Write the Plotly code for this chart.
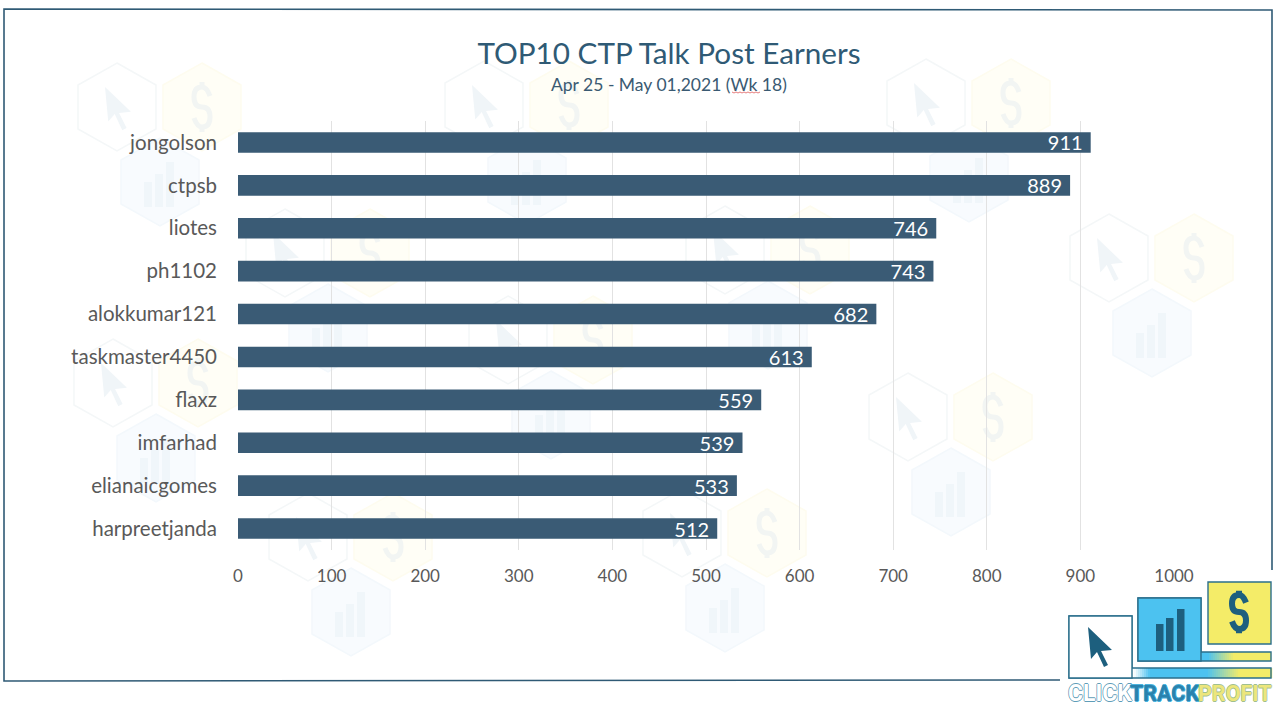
import plotly.graph_objects as go

# Chart data
users = ['jongolson', 'ctpsb', 'liotes', 'ph1102', 'alokkumar121',
         'taskmaster4450', 'flaxz', 'imfarhad', 'elianaicgomes', 'harpreetjanda']
earnings = [911, 889, 746, 743, 682, 613, 559, 539, 533, 512]
x_ticks = [0, 100, 200, 300, 400, 500, 600, 700, 800, 900, 1000]

title_text = 'TOP10 CTP Talk Post Earners'
subtitle_text = 'Apr 25 - May 01,2021 (Wk 18)'

W, H = 1280, 706
NAVY = '#3a5b75'
TEAL = '#1d5f7e'
FONT = 'Lato'

# Watermark positions: white hexagon centre of each group, in page pixels
watermark_groups = [(117, 107), (484, 105), (926, 103), (1109, 258), (285, 253),
                    (725, 250), (113, 383), (508, 340), (908, 417), (308, 537),
                    (682, 533)]


def px(x):
    return x / W


def py(y):
    return 1 - y / H


def poly(points, closed=True):
    path = 'M ' + ' L '.join(f'{px(x):.5f},{py(y):.5f}' for x, y in points)
    return path + (' Z' if closed else '')


def path_shape(path, fill='rgba(0,0,0,0)', line=None, width=0, layer='below'):
    return dict(type='path', xref='paper', yref='paper', path=path, layer=layer,
                fillcolor=fill, line=dict(color=line or 'rgba(0,0,0,0)', width=width))


def rect_shape(x0, y0, x1, y1, fill, line=None, width=0, layer='above'):
    return dict(type='rect', xref='paper', yref='paper', x0=px(x0), x1=px(x1),
                y0=py(y1), y1=py(y0), layer=layer, fillcolor=fill,
                line=dict(color=line or 'rgba(0,0,0,0)', width=width))


def hexagon(cx, cy, fill, line):
    pts = [(cx, cy - 44), (cx + 39, cy - 22), (cx + 39, cy + 22),
           (cx, cy + 44), (cx - 39, cy + 22), (cx - 39, cy - 22)]
    return path_shape(poly(pts), fill, line, 1.5)


def arrow(tx, ty, fill, scale=1.0, layer='below'):
    rel = [(0, 0), (24, 23), (13, 24), (20, 38), (16, 40), (9, 25), (3, 32)]
    return path_shape(poly([(tx + a * scale, ty + b * scale) for a, b in rel]), fill, layer=layer)


def dollar(cx, cy, a, b, color, width, layer='below'):
    pt = lambda dx, dy: f'{px(cx + dx):.5f},{py(cy + dy):.5f}'
    s = (f'M {pt(a, -b * 1.1)} Q {pt(a * 0.6, -2 * b)} {pt(0, -2 * b)} '
         f'Q {pt(-a, -2 * b)} {pt(-a, -b)} Q {pt(-a, 0)} {pt(0, 0)} '
         f'Q {pt(a, 0)} {pt(a, b)} Q {pt(a, 2 * b)} {pt(0, 2 * b)} '
         f'Q {pt(-a * 0.6, 2 * b)} {pt(-a, b * 1.1)} '
         f'M {pt(0, -2.5 * b)} L {pt(0, -2 * b)} M {pt(0, 2 * b)} L {pt(0, 2.5 * b)}')
    return path_shape(s, line=color, width=width, layer=layer)


def mix(c1, c2, t):
    return 'rgb(%d,%d,%d)' % tuple(round(a + (b - a) * t) for a, b in zip(c1, c2))


shapes = []

# Faint hexagon watermark behind the chart
for wx, wy in watermark_groups:
    shapes.append(hexagon(wx, wy, '#ffffff', '#f4f7f8'))
    shapes.append(hexagon(wx + 85, wy, '#fffef6', '#fefcef'))
    shapes.append(hexagon(wx + 43, wy + 75, '#f8fbfe', '#f3f8fc'))
    shapes.append(arrow(wx - 12, wy - 20, '#f0f5f8', 1.08))
    shapes.append(dollar(wx + 85, wy, 8, 10, '#f2f5f3', 5))
    for bx, top in [(-16, 0), (-5, -8), (6, -20)]:
        shapes.append(rect_shape(wx + 43 + bx, wy + 75 + top, wx + 43 + bx + 8, wy + 100,
                                 '#f0f6fa', layer='below'))

# Open frame around the slide
shapes.append(path_shape(poly([(1060, 680), (4, 681), (4, 9), (1272, 10), (1272, 570)], closed=False),
                         line='#2f5a75', width=1.6, layer='above'))

# Spell-check squiggle under "Wk"
squiggle = [(732 + i * 2, 92 + (i % 2)) for i in range(15)]
shapes.append(path_shape(poly(squiggle, closed=False), line='#dd5a5a', width=0.8, layer='above'))

# Logo, bottom right
LOGO_WHITE = (255, 255, 255)
LOGO_BLUE = (76, 194, 240)
LOGO_YELLOW = (244, 236, 104)
for i in range(70):
    x0 = 1132 + i * 2
    mid = x0 + 1
    if mid < 1150:
        c = mix(LOGO_WHITE, LOGO_BLUE, max(0, mid - 1134) / 16)
    else:
        c = mix(LOGO_BLUE, LOGO_YELLOW, min(1, max(0, mid - 1207) / 33))
    shapes.append(rect_shape(x0, 668, x0 + 2.2, 678, c))
for i in range(35):
    x0 = 1201 + i * 2
    c = mix(LOGO_BLUE, LOGO_YELLOW, min(1, max(0, x0 - 1207) / 26))
    shapes.append(rect_shape(x0, 652, x0 + 2.2, 661, c))
shapes.append(path_shape(poly([(1132, 668), (1271, 668), (1271, 678), (1069, 678), (1069, 616), (1132, 616)]),
                         line='#2b6f8c', width=1.4, layer='above'))
shapes.append(rect_shape(1069, 616, 1132, 678, '#ffffff', '#2b6f8c', 1.4))
shapes.append(path_shape(poly([(1201, 652), (1271, 652), (1271, 661), (1138, 661), (1138, 598), (1201, 598)]),
                         line='#2b6f8c', width=1.4, layer='above'))
shapes.append(rect_shape(1138, 598, 1201, 661, '#4cc2f0', '#2b6f8c', 1.4))
shapes.append(rect_shape(1208, 582, 1271, 644, '#f4ec68', '#2b6f8c', 1.4))
shapes.append(arrow(1088, 627, TEAL, 1.0, layer='above'))
for bx, top in [(1156, 624), (1166, 618), (1177, 609)]:
    shapes.append(rect_shape(bx, top, bx + 7.5, 651, TEAL))
shapes.append(dollar(1239, 612, 7, 8.5, TEAL, 6, layer='above'))

fig = go.Figure(go.Bar(
    y=users,
    x=earnings,
    orientation='h',
    marker=dict(color=NAVY, line=dict(width=0)),
    text=earnings,
    texttemplate='%{x}\u00a0',
    textposition='inside',
    insidetextanchor='end',
    constraintext='none',
    textangle=0,
    textfont=dict(family=FONT, size=20, color='#ffffff'),
    hoverinfo='x+y',
))

annotations = [
    dict(text=subtitle_text, x=px(669), y=py(85), xref='paper', yref='paper', showarrow=False,
         xanchor='center', yanchor='middle', font=dict(family=FONT, size=17.5, color='#3a5a72')),
]

# Logo wordmark, one piece per colour
for word, wx, size, fill, edge in [('CLICK', 1068, 23, '#ffffff', '#5f9db8'),
                                   ('TRACK', 1130, 21.5, '#2a82ad', '#4cb4de'),
                                   ('PROFIT', 1198, 21.5, '#ece67c', '#9fbf90')]:
    glow = ','.join(f'{a}px {b}px 0 {edge}' for a, b in [(0.7, 0), (-0.7, 0), (0, 0.7), (0, -0.7)])
    annotations.append(dict(text=word, x=px(wx), y=py(693), xref='paper', yref='paper', showarrow=False,
                            xanchor='left', yanchor='middle', borderpad=0, borderwidth=0,
                            font=dict(family='Roboto', size=size, color=fill,
                                      weight='bold', shadow=glow)))

fig.update_layout(
    width=W,
    height=H,
    autosize=False,
    margin=dict(l=0, r=0, t=0, b=0),
    paper_bgcolor='#ffffff',
    plot_bgcolor='rgba(0,0,0,0)',
    bargap=0.52,
    showlegend=False,
    title=dict(text=title_text, x=px(669), xref='paper', xanchor='center',
               y=py(54), yref='paper', yanchor='middle',
               font=dict(family=FONT, size=29.7, color='#2f5a75')),
    xaxis=dict(domain=[px(238), px(1174)], range=[0, 1000], tickvals=x_ticks,
               automargin=False,
               showgrid=True, gridcolor='#e2e2e2', gridwidth=1, zeroline=False,
               showline=False, ticks='', ticklabelstandoff=14,
               tickfont=dict(family=FONT, size=17, color='#595959')),
    yaxis=dict(domain=[py(550), py(121)], autorange='reversed', type='category',
               automargin=False,
               showgrid=False, zeroline=False, showline=False, ticks='',
               ticklabelstandoff=20,
               tickfont=dict(family=FONT, size=20.5, color='#595959')),
    shapes=shapes,
    annotations=annotations,
)

fig.write_html("out.html", config=dict(displayModeBar=False),
               post_script="document.body.style.margin='0';")
